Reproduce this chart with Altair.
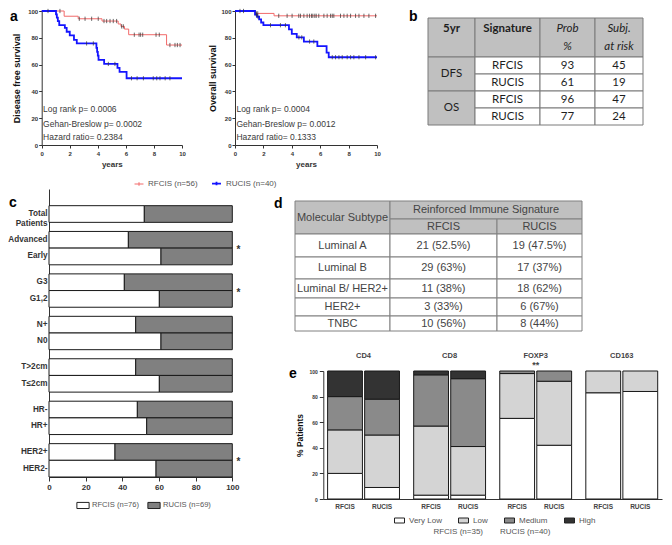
import altair as alt
import pandas as pd

# ------------------------------------------------------------------ data --
# panel a - Kaplan-Meier steps (years, % surviving) and censor ticks (years)
DFS_RF_T = [0, 1.6, 2.6, 4.3, 5.45, 5.65, 5.9, 6.2, 8.9, 10]
DFS_RF_S = [100, 96.1, 94.2, 92.5, 90.3, 88.5, 86.5, 82.3, 74.6, 74.6]
DFS_RF_C = [0.45, 1.3, 2.68, 3.09, 3.56, 4.03, 4.44, 4.63, 4.87, 5.1, 5.34,
            5.7, 5.82, 6.6, 6.94, 7.05, 7.2, 8.15, 8.38, 9.14, 9.5, 9.67, 9.86]
DFS_RU_T = [0, 1.02, 1.08, 1.15, 1.25, 1.65, 1.78, 2.0, 2.3, 2.5, 3.9, 3.95,
            4.0, 4.05, 4.45, 5.4, 5.55, 6.05, 10]
DFS_RU_S = [100, 97.5, 95.0, 92.5, 89.5, 87.4, 84.5, 81.8, 78.5, 75.8, 72.5,
            69.5, 66.7, 63.5, 60.5, 57.5, 54.5, 49.8, 49.8]
DFS_RU_C = [3.2, 3.68, 4.75, 5.22, 6.4, 6.8, 7.25, 7.95, 8.2, 8.43, 8.8, 9.14]

OS_RF_T = [0, 1.45, 2.75, 10]
OS_RF_S = [100, 98.2, 96.4, 96.4]
OS_RF_C = [0.35, 0.6, 1.5, 1.6, 3.08, 3.67, 4.02, 4.49, 4.61, 4.85, 5.08,
           5.25, 5.39, 5.48, 5.62, 5.72, 5.9, 6.26, 6.49, 6.73, 6.85, 6.96,
           7.43, 7.67, 7.9, 8.14, 8.49, 8.73, 9.08, 9.43, 9.9]
OS_RU_T = [0, 1.41, 1.55, 1.7, 1.84, 2.0, 3.8, 4.0, 4.35, 4.85, 5.8, 6.45, 6.6, 10]
OS_RU_S = [100, 97.4, 95.7, 93.8, 91.4, 89.4, 86.3, 83.0, 80.3, 77.2, 73.8,
           69.0, 65.5, 65.5]
OS_RU_C = [1.5, 1.62, 2.5, 3.2, 3.55, 4.5, 4.7, 5.25, 5.55, 6.85, 7.08, 7.32,
           7.55, 7.9, 8.14, 8.37, 8.73, 9.2, 9.9]

KM_SERIES = ["RFCIS (n=56)", "RUCIS (n=40)"]
NOTES_DFS = ["Log rank p= 0.0006", "Gehan-Breslow p= 0.0002", "Hazard ratio= 0.2384"]
NOTES_OS = ["Log rank p= 0.0004", "Gehan-Breslow p= 0.0012", "Hazard ratio= 0.1333"]

# panel b - 5-year table
B_HEAD = ["5yr", "Signature", "Prob\n%", "Subj.\nat risk"]
B_ENDPOINTS = ["DFS", "OS"]
B_SIGS = ["RFCIS", "RUCIS", "RFCIS", "RUCIS"]
B_PROB = [93, 61, 96, 77]
B_RISK = [45, 19, 47, 24]

# panel c - % RFCIS per clinical category (rest is RUCIS)
C_LABELS = ["Total\nPatients", "Advanced", "Early", "G3", "G1,2", "N+", "N0",
            "T>2cm", "T\u22642cm", "HR-", "HR+", "HER2+", "HER2-"]
C_GROUP_OF = ["Total", "Stage", "Stage", "Grade", "Grade", "N", "N", "T", "T",
              "HR", "HR", "HER2", "HER2"]
C_SLOT = [1, 0, 1, 0, 1, 0, 1, 0, 1, 0, 1, 0, 1]
C_RFCIS = [52.0, 43.3, 61.1, 41.1, 60.2, 47.3, 61.1, 47.3, 60.2, 48.2, 53.3, 36.0, 58.4]
C_GROUPS = ["Total", "Stage", "Grade", "N", "T", "HR", "HER2"]
C_STARRED = ["Stage", "Grade", "HER2"]
C_SIGS = ["RFCIS (n=76)", "RUCIS (n=69)"]

# panel d - molecular subtype table
D_TYPES = ["Luminal A", "Luminal B", "Luminal B/ HER2+", "HER2+", "TNBC"]
D_RF_N = [21, 29, 11, 3, 10]
D_RF_PCT = [52.5, 63, 38, 33, 56]
D_RU_N = [19, 17, 18, 6, 8]
D_RU_PCT = [47.5, 37, 62, 67, 44]

# panel e - % patients per infiltration level
E_MARKERS = ["CD4", "CD8", "FOXP3", "CD163"]
E_SIGS = ["RFCIS", "RUCIS"]
E_LEVELS = ["Very Low", "Low", "Medium", "High"]
E_VALUES = {
    ("CD4", "RFCIS"): [20, 34, 26, 20],
    ("CD4", "RUCIS"): [9, 41, 28, 22],
    ("CD8", "RFCIS"): [3, 54, 40, 3],
    ("CD8", "RUCIS"): [3, 38, 53, 6],
    ("FOXP3", "RFCIS"): [63, 35, 2, 0],
    ("FOXP3", "RUCIS"): [42, 50, 8, 0],
    ("CD163", "RFCIS"): [83, 17, 0, 0],
    ("CD163", "RUCIS"): [84, 16, 0, 0],
}

# ---------------------------------------------------------------- layout --
W, H = 656, 529
MARGIN = 8
def X(p): return p - MARGIN
def Y(p): return p - MARGIN

FONT = "Liberation Sans"
INK = "#333333"
GREY_TXT = "#555555"
ONE = pd.DataFrame({"k": [0]})


def inv(dom, rng, p):
    for i in range(len(rng) - 1):
        a, b = rng[i], rng[i + 1]
        if min(a, b) <= p <= max(a, b):
            return dom[i] + (p - a) / (b - a) * (dom[i + 1] - dom[i])
    return dom[-1]


# ------------------------------------------------------------- panel a --
def steps(t, s, name):
    return pd.DataFrame({"t": t, "s": s, "series": name})


def censored(ticks, t, s, name):
    vals = []
    for c in ticks:
        v = s[0]
        for tt, ss in zip(t, s):
            if tt <= c:
                v = ss
        vals.append(v)
    return pd.DataFrame({"t": ticks, "s": vals, "series": name})


def km_panel(rf, ru, left, right, ytitle, tpad, notes, show_legend):
    xs = alt.Scale(domain=[0, 10], range=[X(left), X(right)], nice=False, zero=False)
    ys = alt.Scale(domain=[0, 100], range=[Y(145), Y(11)], nice=False, zero=False)
    lines = pd.concat([steps(rf[0], rf[1], KM_SERIES[0]), steps(ru[0], ru[1], KM_SERIES[1])])
    cens = pd.concat([censored(rf[2], rf[0], rf[1], KM_SERIES[0]),
                      censored(ru[2], ru[0], ru[1], KM_SERIES[1])])
    xaxis = alt.Axis(orient="bottom", offset=-(H - Y(145)), values=[0, 2, 4, 6, 8, 10],
                     title="years", titleFontSize=8, titleFontWeight="bold", titlePadding=4,
                     titleColor=INK, labelFontSize=6, labelFontWeight="bold", labelColor=INK,
                     labelPadding=2, tickSize=3, tickColor=INK, domainColor=INK,
                     labelFlush=False, labelOverlap=False, grid=False)
    yaxis = alt.Axis(orient="left", offset=-X(left), values=[0, 20, 40, 60, 80, 100],
                     title=ytitle, titleFontSize=9, titleFontWeight="bold", titlePadding=tpad,
                     titleColor="#111", labelFontSize=6, labelFontWeight="bold", labelColor=INK,
                     labelPadding=1, tickSize=3, tickColor=INK, domainColor=INK,
                     labelFlush=False, labelOverlap=False, grid=False)
    if show_legend:
        leg = alt.Legend(orient="none", legendX=X(134), legendY=Y(178), direction="horizontal",
                         title=None, symbolType="M-1,0H1M0,-0.4V0.4", symbolSize=80,
                         symbolStrokeWidth=1.1, labelFontSize=8, labelColor=GREY_TXT,
                         labelFont=FONT, columnPadding=10, labelOffset=4, padding=0)
    else:
        leg = None
    color = alt.Color("series:N", scale=alt.Scale(domain=KM_SERIES, range=["#f26a6a", "#1414ff"]),
                      legend=leg)
    line = alt.Chart(lines).mark_line(interpolate="step-after").encode(
        x=alt.X("t:Q", scale=xs, axis=xaxis),
        y=alt.Y("s:Q", scale=ys, axis=yaxis),
        color=color,
        strokeWidth=alt.StrokeWidth("series:O", scale=alt.Scale(domain=KM_SERIES, range=[1.0, 1.8]),
                                    legend=None),
    )
    ticks = alt.Chart(cens).mark_point(shape="M0,-1V1", size=18, strokeWidth=0.8,
                                       filled=False, color="#333", opacity=0.9).encode(
        x=alt.X("t:Q", scale=xs, axis=xaxis),
        y=alt.Y("s:Q", scale=ys, axis=yaxis),
    )
    nd = pd.DataFrame({"txt": notes, "nx": [0.1] * 3, "ny": [27, 15.3, 5.8]})
    txt = alt.Chart(nd).mark_text(align="left", baseline="middle", fontSize=8.5,
                                  color="#3a3a3a").encode(
        x=alt.X("nx:Q", scale=xs, axis=xaxis),
        y=alt.Y("ny:Q", scale=ys, axis=yaxis),
        text="txt:N",
    )
    return alt.layer(line, ticks, txt)


a1 = km_panel((DFS_RF_T, DFS_RF_S, DFS_RF_C), (DFS_RU_T, DFS_RU_S, DFS_RU_C),
              41.7, 182, "Disease free survival", 6, NOTES_DFS, True)
a2 = km_panel((OS_RF_T, OS_RF_S, OS_RF_C), (OS_RU_T, OS_RU_S, OS_RU_C),
              235, 377, "Overall survival", 3, NOTES_OS, False)


# --------------------------------------------------------------- tables --
def table(cells, xdom, xrng, ydom, yrng, font, fsize, color, stroke, line_h):
    xs = alt.Scale(domain=xdom, range=xrng, nice=False, zero=False)
    ys = alt.Scale(domain=ydom, range=yrng, nice=False, zero=False)
    df = pd.DataFrame(cells)
    df["tx"] = [inv(xdom, xrng, (xrng[a] + xrng[b]) / 2) for a, b in zip(df["c0"], df["c1"])]
    # first line sits at y; shift so the whole block is centred in its cell
    df["ty"] = [inv(ydom, yrng, (yrng[a] + yrng[b]) / 2 - (t.count("\n")) * line_h / 2)
                for a, b, t in zip(df["r0"], df["r1"], df["txt"])]
    rect = alt.Chart(df).mark_rect(stroke=stroke, strokeWidth=1).encode(
        x=alt.X("c0:Q", scale=xs, axis=None), x2="c1:Q",
        y=alt.Y("r0:Q", scale=ys, axis=None), y2="r1:Q",
        fill=alt.Fill("fill:N", scale=None),
    )
    layers = [rect]
    for (wt, st) in sorted(set(zip(df["weight"], df["fstyle"]))):
        sub = df[(df["weight"] == wt) & (df["fstyle"] == st)]
        layers.append(alt.Chart(sub).mark_text(
            font=font, fontSize=fsize, fontWeight=wt, fontStyle=st, color=color,
            lineBreak="\n", lineHeight=line_h, baseline="middle", align="center").encode(
            x=alt.X("tx:Q", scale=xs, axis=None),
            y=alt.Y("ty:Q", scale=ys, axis=None),
            text="txt:N",
        ))
    return alt.layer(*layers)


HEAD_FILL = "#c0c0c0"
b_cells = []
for i, h in enumerate(B_HEAD):
    b_cells.append(dict(c0=i, c1=i + 1, r0=0, r1=1, txt=h if "\n" in h else h + "\n ",
                        fill=HEAD_FILL, weight="bold" if i < 2 else "normal",
                        fstyle="normal" if i < 2 else "italic"))
for j, ep in enumerate(B_ENDPOINTS):
    b_cells.append(dict(c0=0, c1=1, r0=1 + 2 * j, r1=3 + 2 * j, txt=ep, fill=HEAD_FILL,
                        weight="normal", fstyle="normal"))
for k in range(4):
    for ci, v in enumerate([B_SIGS[k], str(B_PROB[k]), str(B_RISK[k])]):
        b_cells.append(dict(c0=1 + ci, c1=2 + ci, r0=1 + k, r1=2 + k, txt=v, fill="#ffffff",
                            weight="normal", fstyle="normal"))
b = table(b_cells, [0, 1, 2, 3, 4], [X(428), X(475), X(540), X(595), X(643)],
          [0, 1, 2, 3, 4, 5], [Y(18), Y(57), Y(74), Y(91), Y(108), Y(125)],
          "Lato", 11.5, "#1e1e1e", "#7a7a7a", 18)

d_cells = [
    dict(c0=0, c1=1, r0=0, r1=2, txt="Molecular Subtype", fill=HEAD_FILL, weight="normal", fstyle="normal"),
    dict(c0=1, c1=3, r0=0, r1=1, txt="Reinforced Immune Signature", fill=HEAD_FILL, weight="normal", fstyle="normal"),
    dict(c0=1, c1=2, r0=1, r1=2, txt="RFCIS", fill=HEAD_FILL, weight="normal", fstyle="normal"),
    dict(c0=2, c1=3, r0=1, r1=2, txt="RUCIS", fill=HEAD_FILL, weight="normal", fstyle="normal"),
]
for k, t in enumerate(D_TYPES):
    vals = [t, f"{D_RF_N[k]} ({D_RF_PCT[k]:g}%)", f"{D_RU_N[k]} ({D_RU_PCT[k]:g}%)"]
    for ci, v in enumerate(vals):
        d_cells.append(dict(c0=ci, c1=ci + 1, r0=2 + k, r1=3 + k, txt=v, fill="#ffffff",
                            weight="normal", fstyle="normal"))
d = table(d_cells, [0, 1, 2, 3], [X(295), X(390), X(497), X(582)],
          [0, 1, 2, 3, 4, 5, 6, 7],
          [Y(201), Y(219), Y(234), Y(257), Y(279), Y(298), Y(316), Y(331)],
          FONT, 11, "#444444", "#808080", 13)

# ------------------------------------------------------------- panel c --
c_rows = []
for lab, g, s, v in zip(C_LABELS, C_GROUP_OF, C_SLOT, C_RFCIS):
    c_rows.append(dict(grp=g, slot=s, sig=C_SIGS[0], x0=0, x1=v))
    c_rows.append(dict(grp=g, slot=s, sig=C_SIGS[1], x0=v, x1=100))
c_bars = pd.DataFrame(c_rows)
c_labels = pd.DataFrame({"grp": C_GROUP_OF, "slot": C_SLOT, "label": C_LABELS})
c_stars = pd.DataFrame({"grp": C_STARRED, "star": ["*"] * len(C_STARRED)})

cxs = alt.Scale(domain=[0, 100], range=[X(49), X(232.3)], nice=False, zero=False)
cys = alt.Scale(domain=C_GROUPS, range=[Y(189), Y(477)], paddingInner=0.214, paddingOuter=0)
coff = alt.Scale(domain=[0, 1], paddingInner=0, paddingOuter=0)
cx_axis = alt.Axis(orient="bottom", offset=-(H - Y(477)), values=[0, 20, 40, 60, 80, 100],
                   title=None, labelFontSize=8, labelFontWeight="bold", labelColor=INK,
                   labelPadding=2, tickSize=4, tickColor=INK, domainColor=INK,
                   labelFlush=False, labelOverlap=False, grid=False)
cy_axis = alt.Axis(orient="left", offset=-X(49), labels=False, ticks=False, title=None,
                   domainColor=INK, grid=False)

c_bar = alt.Chart(c_bars).mark_bar(stroke="#1a1a1a", strokeWidth=1).encode(
    x=alt.X("x0:Q", scale=cxs, axis=cx_axis),
    x2="x1:Q",
    y=alt.Y("grp:N", scale=cys, axis=cy_axis),
    yOffset=alt.YOffset("slot:N", scale=coff),
    color=alt.Color("sig:N", scale=alt.Scale(domain=C_SIGS, range=["#ffffff", "#808080"]),
                    legend=alt.Legend(orient="none", legendX=X(76), legendY=Y(498),
                                      direction="horizontal", title=None,
                                      symbolType="M-1,-0.5H1V0.5H-1Z", symbolSize=150,
                                      symbolStrokeColor="#222", symbolStrokeWidth=1,
                                      labelFontSize=7.6, labelColor=GREY_TXT, labelFont=FONT,
                                      columnPadding=5, labelOffset=2, padding=0)),
)
c_lab = alt.Chart(c_labels).mark_text(align="right", baseline="middle", dx=-1.5, fontSize=8.2,
                                      fontWeight="bold", color=INK, lineBreak="\n",
                                      lineHeight=10).encode(
    x=alt.XDatum(0, scale=cxs, axis=cx_axis),
    y=alt.Y("grp:N", scale=cys, axis=cy_axis),
    yOffset=alt.YOffset("slot:N", scale=coff),
    text="label:N",
)
c_star = alt.Chart(c_stars).mark_text(align="center", baseline="middle", dy=2, fontSize=10,
                                      fontWeight="bold", color=INK).encode(
    x=alt.XDatum(103.3, scale=cxs, axis=cx_axis),
    y=alt.Y("grp:N", scale=cys, axis=cy_axis),
    text="star:N",
)
c = alt.layer(c_bar, c_lab, c_star)

# ------------------------------------------------------------- panel e --
e_rows = []
for m in E_MARKERS:
    for s in E_SIGS:
        base = 0
        for lev, v in zip(E_LEVELS, E_VALUES[(m, s)]):
            if v > 0:
                e_rows.append(dict(marker=m, sig=s, level=lev, y0=base, y1=base + v))
            base += v
e_bars = pd.DataFrame(e_rows)
e_ticks = pd.DataFrame([dict(marker=m, sig=s) for m in E_MARKERS for s in E_SIGS])
e_heads = pd.DataFrame({"marker": E_MARKERS})
e_sigmark = pd.DataFrame({"marker": ["FOXP3"], "txt": ["**"]})

exs = alt.Scale(domain=E_MARKERS, range=[X(323.3), X(662)], paddingInner=0.165, paddingOuter=0.05)
eys = alt.Scale(domain=[0, 100], range=[Y(499), Y(371)], nice=False, zero=False)
eoff = alt.Scale(domain=E_SIGS, paddingInner=0.06, paddingOuter=0)
ex_axis = alt.Axis(orient="bottom", offset=-(H - Y(499)), labels=False, ticks=False, title=None,
                   domainColor=INK, grid=False)
ey_axis = alt.Axis(orient="left", offset=-X(323.3), values=[0, 20, 40, 60, 80, 100],
                   title="% Patients", titleFontSize=8.5, titleFontWeight="bold",
                   titleColor="#111", titlePadding=4, labelFontSize=5, labelFontWeight="bold",
                   labelColor=INK, labelPadding=2, tickSize=4, tickColor=INK, domainColor=INK,
                   labelFlush=False, labelOverlap=False, grid=False)

e_bar = alt.Chart(e_bars).mark_bar(stroke="#1a1a1a", strokeWidth=1).encode(
    x=alt.X("marker:N", scale=exs, axis=ex_axis),
    xOffset=alt.XOffset("sig:N", scale=eoff),
    y=alt.Y("y0:Q", scale=eys, axis=ey_axis),
    y2="y1:Q",
    color=alt.Color("level:N", scale=alt.Scale(domain=E_LEVELS,
                                               range=["#ffffff", "#d4d4d4", "#8a8a8a", "#333333"]),
                    legend=alt.Legend(orient="none", legendX=X(394), legendY=Y(515),
                                      direction="horizontal", title=None,
                                      symbolType="M-1,-0.5H1V0.5H-1Z", symbolSize=100,
                                      symbolStrokeColor="#222", symbolStrokeWidth=1,
                                      labelFontSize=8, labelColor=GREY_TXT, labelFont=FONT,
                                      columnPadding=14, labelOffset=4, padding=0)),
)
e_tick = alt.Chart(e_ticks).mark_text(baseline="middle", dy=8, fontSize=6.5, fontWeight="bold",
                                      color="#444").encode(
    x=alt.X("marker:N", scale=exs, axis=ex_axis),
    xOffset=alt.XOffset("sig:N", scale=eoff),
    y=alt.YDatum(0, scale=eys, axis=ey_axis),
    text="sig:N",
)
e_head = alt.Chart(e_heads).mark_text(baseline="middle", fontSize=7.5, fontWeight="bold",
                                      color="#444").encode(
    x=alt.X("marker:N", scale=exs, axis=ex_axis),
    y=alt.YDatum(112, scale=eys, axis=ey_axis),
    text="marker:N",
)
e_sig = alt.Chart(e_sigmark).mark_text(baseline="middle", fontSize=9, fontWeight="bold",
                                       color="#444").encode(
    x=alt.X("marker:N", scale=exs, axis=ex_axis),
    y=alt.YDatum(104.5, scale=eys, axis=ey_axis),
    text="txt:N",
)
e = alt.layer(e_bar, e_tick, e_head, e_sig)


# ------------------------------------------------------- free annotations --
def note(txt, x, y, size=14, weight="bold", align="left", baseline="alphabetic", color="#000"):
    return alt.Chart(ONE).mark_text(text=txt, fontSize=size, fontWeight=weight, align=align,
                                    baseline=baseline, color=color).encode(
        x=alt.value(x), y=alt.value(y))


letters = [
    note("a", 2, 2, baseline="top"),
    note("b", X(409), 2, baseline="top"),
    note("c", 1, Y(206.7)),
    note("d", X(274), Y(208)),
    note("e", X(289), Y(378)),
    note("RFCIS (n=35)", X(483), Y(532), size=8, weight="normal", align="right",
         baseline="middle", color=GREY_TXT),
    note("RUCIS (n=40)", X(500), Y(532), size=8, weight="normal", align="left",
         baseline="middle", color=GREY_TXT),
]

chart = alt.layer(a1, a2, b, c, d, e, *letters).resolve_scale(
    x="independent", y="independent", color="independent", strokeWidth="independent",
    xOffset="independent", yOffset="independent", fill="independent",
).properties(
    width=W, height=H, autosize=alt.AutoSizeParams(type="none"), padding=0,
).configure(font=FONT).configure_view(strokeWidth=0)

chart.save("out.html", embed_options={"renderer": "svg", "actions": False})
